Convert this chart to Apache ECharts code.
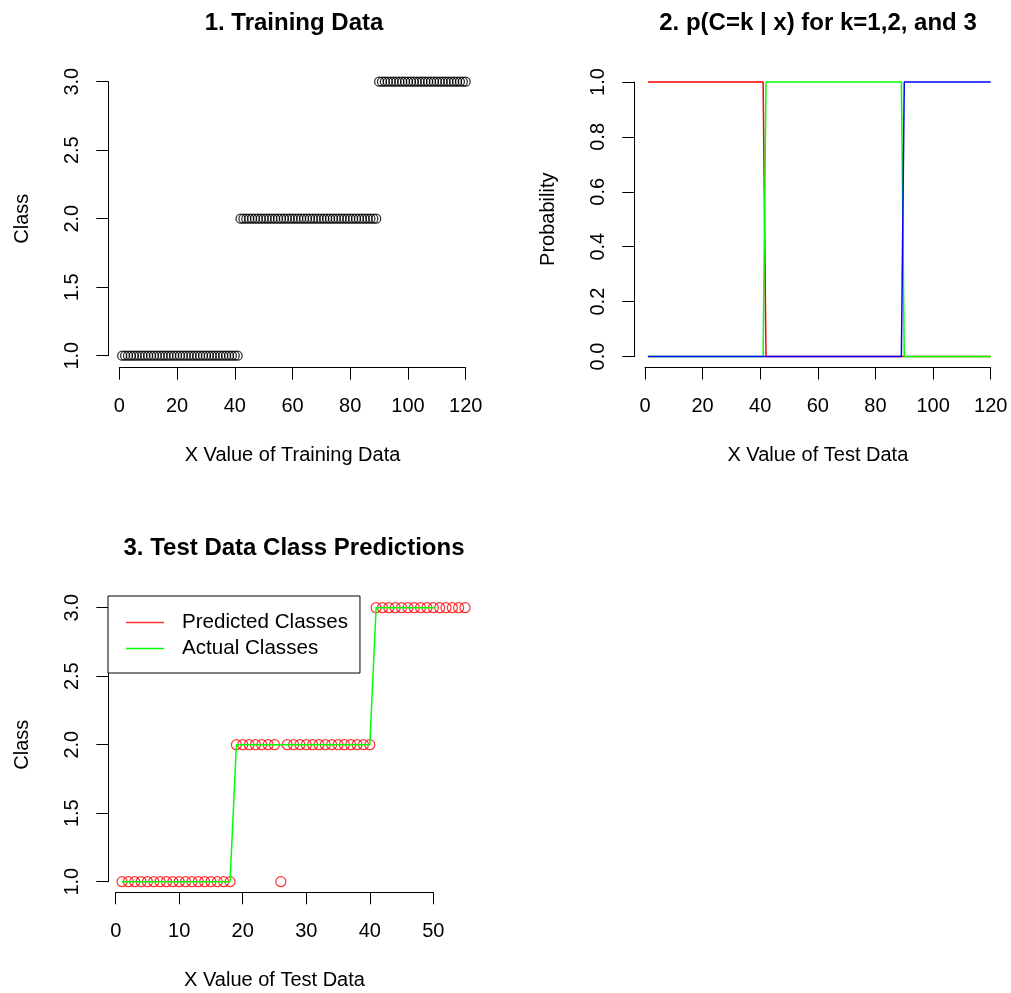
<!DOCTYPE html>
<html>
<head>
<meta charset="utf-8">
<script src="https://cdn.jsdelivr.net/npm/echarts@6/dist/echarts.min.js"></script>
<style>
html,body{margin:0;padding:0;background:#fff;}
#c{width:1011px;height:993px;}
</style>
</head>
<body>
<div id="c"></div>
<script>
// ---- Panel 1: training data (x = 1..120) ----
var trainClass = [
 1,1,1,1,1,1,1,1,1,1,
 1,1,1,1,1,1,1,1,1,1,
 1,1,1,1,1,1,1,1,1,1,
 1,1,1,1,1,1,1,1,1,1,
 1,2,2,2,2,2,2,2,2,2,
 2,2,2,2,2,2,2,2,2,2,
 2,2,2,2,2,2,2,2,2,2,
 2,2,2,2,2,2,2,2,2,2,
 2,2,2,2,2,2,2,2,2,3,
 3,3,3,3,3,3,3,3,3,3,
 3,3,3,3,3,3,3,3,3,3,
 3,3,3,3,3,3,3,3,3,3
];
// ---- Panel 2: p(C=k | x), x = 1..120 ----
var probK1 = [
 1,1,1,1,1,1,1,1,1,1,
 1,1,1,1,1,1,1,1,1,1,
 1,1,1,1,1,1,1,1,1,1,
 1,1,1,1,1,1,1,1,1,1,
 1,0,0,0,0,0,0,0,0,0,
 0,0,0,0,0,0,0,0,0,0,
 0,0,0,0,0,0,0,0,0,0,
 0,0,0,0,0,0,0,0,0,0,
 0,0,0,0,0,0,0,0,0,0,
 0,0,0,0,0,0,0,0,0,0,
 0,0,0,0,0,0,0,0,0,0,
 0,0,0,0,0,0,0,0,0,0
];
var probK2 = [
 0,0,0,0,0,0,0,0,0,0,
 0,0,0,0,0,0,0,0,0,0,
 0,0,0,0,0,0,0,0,0,0,
 0,0,0,0,0,0,0,0,0,0,
 0,1,1,1,1,1,1,1,1,1,
 1,1,1,1,1,1,1,1,1,1,
 1,1,1,1,1,1,1,1,1,1,
 1,1,1,1,1,1,1,1,1,1,
 1,1,1,1,1,1,1,1,1,0,
 0,0,0,0,0,0,0,0,0,0,
 0,0,0,0,0,0,0,0,0,0,
 0,0,0,0,0,0,0,0,0,0
];
var probK3 = [
 0,0,0,0,0,0,0,0,0,0,
 0,0,0,0,0,0,0,0,0,0,
 0,0,0,0,0,0,0,0,0,0,
 0,0,0,0,0,0,0,0,0,0,
 0,0,0,0,0,0,0,0,0,0,
 0,0,0,0,0,0,0,0,0,0,
 0,0,0,0,0,0,0,0,0,0,
 0,0,0,0,0,0,0,0,0,0,
 0,0,0,0,0,0,0,0,0,1,
 1,1,1,1,1,1,1,1,1,1,
 1,1,1,1,1,1,1,1,1,1,
 1,1,1,1,1,1,1,1,1,1
];
// ---- Panel 3: test data, x = 1..55 ----
var predictedClass = [
 1,1,1,1,1,1,1,1,1,1,
 1,1,1,1,1,1,1,1,2,2,
 2,2,2,2,2,1,2,2,2,2,
 2,2,2,2,2,2,2,2,2,2,
 3,3,3,3,3,3,3,3,3,3,
 3,3,3,3,3
];
var actualClass = [
 1,1,1,1,1,1,1,1,1,1,
 1,1,1,1,1,1,1,1,2,2,
 2,2,2,2,2,2,2,2,2,2,
 2,2,2,2,2,2,2,2,2,2,
 3,3,3,3,3,3,3,3,3,3,
 3,3,3,3,3
];
var titles = ['1. Training Data', '2. p(C=k | x) for k=1,2, and 3', '3. Test Data Class Predictions'];
var xNames = ['X Value of Training Data', 'X Value of Test Data', 'X Value of Test Data'];
var yNames = ['Class', 'Probability', 'Class'];

function pairs(arr){ return arr.map(function(v,i){ return [i+1, v]; }); }

var FONT = '"Liberation Sans", Arial, Helvetica, sans-serif';
var axisLine = {show:true, onZero:false, lineStyle:{color:'#000', width:1}};
var axisTick = {show:true, length:12, lineStyle:{color:'#000', width:1}};

function xAx(grid, max, interval, name, offset){
  return {type:'value', gridIndex:grid, min:0, max:max, interval:interval, offset:offset,
    axisLine:axisLine, axisTick:axisTick, splitLine:{show:false},
    axisLabel:{color:'#000', fontSize:20, fontFamily:FONT, margin:29},
    name:name, nameLocation:'middle', nameGap:78,
    nameTextStyle:{color:'#000', fontSize:20, fontFamily:FONT}};
}
function yAx(grid, min, max, interval, name, offset){
  return {type:'value', gridIndex:grid, min:min, max:max, interval:interval, offset:offset,
    axisLine:axisLine, axisTick:axisTick, splitLine:{show:false},
    axisLabel:{color:'#000', fontSize:20, fontFamily:FONT, rotate:90, margin:26,
      formatter:function(v){ return v.toFixed(1); }},
    name:name, nameLocation:'middle', nameGap:76, nameRotate:90,
    nameTextStyle:{color:'#000', fontSize:20, fontFamily:FONT}};
}

var chart = echarts.init(document.getElementById('c'), null, {renderer:'canvas'});
chart.setOption({
  animation:false,
  backgroundColor:'#fff',
  title:[
    {text:titles[0], left:294, top:11, textAlign:'center', padding:0,
     textStyle:{fontSize:24, fontWeight:'bold', fontFamily:FONT, color:'#000'}},
    {text:titles[1], left:818, top:11, textAlign:'center', padding:0,
     textStyle:{fontSize:24, fontWeight:'bold', fontFamily:FONT, color:'#000'}},
    {text:titles[2], left:294, top:536, textAlign:'center', padding:0,
     textStyle:{fontSize:24, fontWeight:'bold', fontFamily:FONT, color:'#000'}}
  ],
  legend:{
    left:108, top:596, orient:'vertical',
    backgroundColor:'#fff', borderColor:'#000', borderWidth:1, borderRadius:0,
    padding:[16,12,14,18], itemGap:5, itemWidth:38, itemHeight:1.5,
    selectedMode:false,
    textStyle:{fontSize:20.6, fontFamily:FONT, color:'#000', lineHeight:20, padding:[0,0,0,13]},
    data:[
      {name:'Predicted Classes', icon:'rect', itemStyle:{color:'#ff0000', borderWidth:0}},
      {name:'Actual Classes', icon:'rect', itemStyle:{color:'#00ff00', borderWidth:0}}
    ]
  },
  grid:[
    {left:119.3, top:81.7, width:346.4, height:274},
    {left:645, top:82, width:345.7, height:274.5},
    {left:115.7, top:607.7, width:317.6, height:274}
  ],
  xAxis:[
    xAx(0, 120, 20, xNames[0], 12),
    xAx(1, 120, 20, xNames[1], 11),
    xAx(2, 50, 10, xNames[2], 10.6)
  ],
  yAxis:[
    yAx(0, 1, 3, 0.5, yNames[0], 11),
    yAx(1, 0, 1, 0.2, yNames[1], 10.7),
    yAx(2, 1, 3, 0.5, yNames[2], 7.4)
  ],
  series:[
    {type:'scatter', xAxisIndex:0, yAxisIndex:0, data:pairs(trainClass), clip:false,
     symbol:'circle', symbolSize:9,
     itemStyle:{color:'rgba(0,0,0,0)', borderColor:'#000', borderWidth:1.3}},
    {type:'line', xAxisIndex:1, yAxisIndex:1, data:pairs(probK1), clip:false, showSymbol:false,
     lineStyle:{color:'#ff0000', width:1.5}, itemStyle:{color:'#ff0000'}},
    {type:'line', xAxisIndex:1, yAxisIndex:1, data:pairs(probK2), clip:false, showSymbol:false,
     lineStyle:{color:'#00ff00', width:1.5}, itemStyle:{color:'#00ff00'}},
    {type:'line', xAxisIndex:1, yAxisIndex:1, data:pairs(probK3), clip:false, showSymbol:false,
     lineStyle:{color:'#0000ff', width:1.5}, itemStyle:{color:'#0000ff'}},
    {name:'Predicted Classes', type:'scatter', xAxisIndex:2, yAxisIndex:2, data:pairs(predictedClass), clip:false,
     symbol:'circle', symbolSize:10,
     itemStyle:{color:'rgba(0,0,0,0)', borderColor:'#ff0000', borderWidth:1.2}},
    {name:'Actual Classes', type:'line', xAxisIndex:2, yAxisIndex:2, data:pairs(actualClass), clip:false, showSymbol:false,
     lineStyle:{color:'#00ff00', width:1.5}, itemStyle:{color:'#00ff00'}, z:3}
  ]
});
</script>
</body>
</html>
